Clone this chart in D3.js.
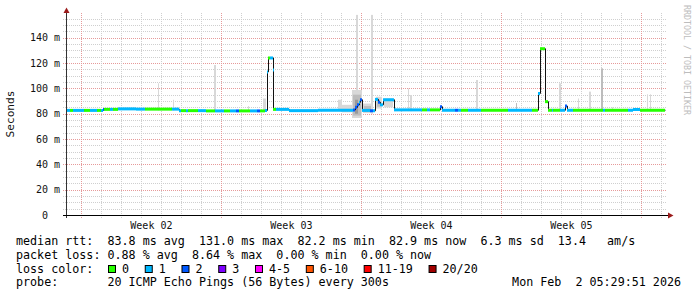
<!DOCTYPE html>
<html>
<head>
<meta charset="utf-8">
<script src="https://cdn.jsdelivr.net/npm/d3@7"></script>
<style>
html, body { margin: 0; padding: 0; background: #fff; }
svg text { font-family: "DejaVu Sans Mono", monospace; white-space: pre; }
</style>
</head>
<body>
<svg width="697" height="297"></svg>
<script>
const svg = d3.select('svg');

// last 30 days, ending at the graph time
const endTime = new Date(Date.UTC(2026, 1, 2, 5, 29, 51));
const startTime = new Date(+endTime - 30 * 864e5);

const yTicks = [0, 20, 40, 60, 80, 100, 120, 140];
const yMax = 159.5;

// median rtt steps: [days since start, ms, loss bucket]
const median = [
  [0, 82.6, 1], [0.2, 82.6, 0], [0.35, 82.6, 1], [0.9, 82.6, 0], [1.2, 82.6, 1],
  [1.55, 82.6, 0], [1.75, 82.6, 1], [1.85, 83.4, 2], [1.9, 83.4, 0], [2.2, 83.4, 1],
  [2.35, 83.4, 0], [2.6, 83.8, 1], [3.5, 83.6, 1], [3.95, 83.6, 0], [5.3, 83.6, 1],
  [5.65, 82.4, 1], [5.75, 82.4, 0], [6.0, 82.4, 1], [6.1, 82.4, 0], [6.6, 82.4, 1],
  [7.0, 82.2, 0], [7.45, 82.2, 1], [7.9, 82.2, 0], [8.2, 82.2, 1], [8.5, 82.2, 2],
  [8.65, 82.2, 0], [9.2, 82.2, 1], [9.55, 82.2, 2], [9.7, 82.2, 0], [9.95, 82.6, 1],
  [10.05, 113, 1], [10.1, 124, 0], [10.2, 124, 1], [10.325, 114.5, 1], [10.35, 83.4, 0],
  [10.5, 83.4, 1], [11.15, 82.4, 1], [12.6, 82.8, 1], [14.35, 83, 2], [14.45, 85, 2],
  [14.55, 87, 2], [14.65, 89, 1], [14.7, 91, 2], [14.8, 82.6, 1], [15.2, 82.3, 2],
  [15.35, 82.3, 1], [15.45, 91.3, 1], [15.6, 89, 2], [15.7, 87, 1], [15.85, 91, 1],
  [16.375, 83, 1], [17.8, 83, 0], [18.05, 83, 1], [18.2, 83, 0], [18.7, 85.5, 2],
  [18.8, 82.7, 1], [19.45, 82.7, 2], [19.6, 82.7, 1], [19.75, 82.7, 0], [20.1, 82.7, 1],
  [20.75, 82.7, 0], [22.1, 82.7, 1], [23.3, 82.7, 0], [23.6, 96, 1], [23.7, 131.3, 0],
  [23.95, 89.5, 0], [24.075, 82.7, 0], [24.3, 82.7, 1], [24.35, 82.7, 0], [24.7, 82.7, 1],
  [24.95, 86, 2], [25.05, 82.7, 1], [25.35, 82.7, 0], [26.85, 82.7, 1], [26.95, 82.7, 0],
  [28.1, 82.7, 1], [28.35, 83.3, 1], [28.7, 82.7, 0]
];
const medianEnd = 29.95;

// smoke: [from day, to day, low ms, high ms, shade]
const smoke = [
  [4.6, 4.65, 82.5, 104, 0], [5.35, 5.4, 82.5, 91, 0], [7.4, 7.5, 82, 118.4, 0],
  [9.075, 9.125, 82, 86, 0], [9.85, 10.0, 82, 92, 0], [13.6, 13.8, 82, 91, 0],
  [13.8, 14.3, 81, 87, 0], [14.5, 14.6, 80, 158, 0], [15.25, 15.35, 80, 158, 0],
  [14.3, 14.8, 76.6, 98.7, 0], [14.35, 14.75, 78.5, 95, 1], [14.45, 14.6, 80, 91, 2],
  [14.85, 15.35, 80.5, 88, 0], [14.9, 15.25, 81.5, 86, 1],
  [15.5, 15.8, 84, 93.4, 0], [15.55, 15.7, 85.5, 91, 1], [15.9, 16.35, 85, 92, 0],
  [17.075, 17.15, 82, 100, 0], [17.2, 17.3, 82, 94.7, 0], [20.475, 20.575, 82, 106.6, 0],
  [22.5, 22.55, 82, 88.4, 1], [24.625, 24.7, 82, 104, 0], [25.575, 25.625, 82, 92, 0],
  [26.125, 26.2, 82, 97.4, 0], [26.725, 26.825, 82, 115.8, 1], [27.3, 27.35, 82, 85, 0],
  [29.025, 29.075, 82, 95.3, 0], [29.175, 29.225, 82, 95.3, 0]
];
const smokeShades = ['#d8d8d8', '#bcbcbc', '#999999'];

const lossLabels = ['0', '1', '2', '3', '4-5', '6-10', '11-19', '20/20'];
const lossColors = ['#26ff00', '#00b8ff', '#0059ff', '#7e00ff', '#ff00ff', '#ff5500', '#ff0000', '#a10000'];

const legendRows = [
  'median rtt:  83.8 ms avg  131.0 ms max  82.2 ms min  82.9 ms now  6.3 ms sd  13.4   am/s',
  'packet loss: 0.88 % avg  8.64 % max  0.00 % min  0.00 % now',
  'loss color:',
  'probe:       20 ICMP Echo Pings (56 Bytes) every 300s'
];
const stampText = 'Mon Feb  2 05:29:51 2026';

const x = d3.scaleTime().domain([startTime, endTime]).range([66, 666]);
const y = d3.scaleLinear().domain([0, yMax]).range([215, 13]);
const at = d => new Date(+startTime + d * 864e5);
const crisp = v => Math.round(v) + 0.5;

const grid = svg.append('g');

// horizontal grid
const minorY = d3.range(5, yMax, 5).filter(v => v % 20 !== 0);
grid.selectAll('.hmin').data(minorY).enter().append('line')
    .attr('x1', 63).attr('x2', 666)
    .attr('y1', d => crisp(y(d))).attr('y2', d => crisp(y(d)))
    .attr('stroke', '#cfcfcf').attr('stroke-dasharray', '1,1');
grid.selectAll('.hmaj').data(yTicks.filter(v => v > 0)).enter().append('line')
    .attr('x1', 63).attr('x2', 666)
    .attr('y1', d => crisp(y(d))).attr('y2', d => crisp(y(d)))
    .attr('stroke', '#e69a9a').attr('stroke-dasharray', '1,1');

// vertical grid: days and weeks
const days = d3.utcDay.range(startTime, endTime).filter(d => d.getUTCDay() !== 0);
const weeks = d3.utcSunday.range(startTime, endTime);
grid.selectAll('.vmin').data(days).enter().append('line')
    .attr('x1', d => crisp(x(d))).attr('x2', d => crisp(x(d)))
    .attr('y1', 13).attr('y2', 218)
    .attr('stroke', '#cfcfcf').attr('stroke-dasharray', '1,1');
grid.selectAll('.vmaj').data(weeks).enter().append('line')
    .attr('x1', d => crisp(x(d))).attr('x2', d => crisp(x(d)))
    .attr('y1', 13).attr('y2', 218)
    .attr('stroke', '#e69a9a').attr('stroke-dasharray', '1,1');

// smoke
svg.append('g').selectAll('rect').data(smoke).enter().append('rect')
    .attr('x', d => Math.round(x(at(d[0]))))
    .attr('width', d => Math.max(1, Math.round(x(at(d[1])) - x(at(d[0])))))
    .attr('y', d => y(d[3]))
    .attr('height', d => y(d[2]) - y(d[3]))
    .attr('fill', d => smokeShades[d[4]]);

// median line, dark step line under the loss coloured segments
const pts = median.map(d => [d[0], d[1]]).concat([[medianEnd, median[median.length - 1][1]]]);
svg.append('path')
    .attr('d', d3.line().x(d => crisp(x(at(d[0])))).y(d => y(d[1])).curve(d3.curveStepAfter)(pts))
    .attr('fill', 'none').attr('stroke', '#111').attr('stroke-width', 1);

const segs = median.map((d, i) => ({
  t0: d[0], t1: i + 1 < median.length ? median[i + 1][0] : medianEnd, v: d[1], loss: d[2]
}));
svg.append('g').selectAll('line').data(segs).enter().append('line')
    .attr('x1', d => Math.round(x(at(d.t0))))
    .attr('x2', d => Math.max(Math.round(x(at(d.t1))), Math.round(x(at(d.t0))) + 1))
    .attr('y1', d => y(d.v)).attr('y2', d => y(d.v))
    .attr('stroke', d => lossColors[d.loss]).attr('stroke-width', 3);

// axes
const axis = svg.append('g');
axis.append('line').attr('x1', 66.5).attr('x2', 66.5).attr('y1', 13).attr('y2', 218)
    .attr('stroke', '#333');
axis.append('line').attr('x1', 63).attr('x2', 668).attr('y1', 215.5).attr('y2', 215.5)
    .attr('stroke', '#000');
axis.append('path').attr('d', 'M63.5,13L69.5,13L66.5,7.5Z').attr('fill', '#9b1b1b');
axis.append('path').attr('d', 'M668,212.5L668,218.5L673.5,215.5Z').attr('fill', '#9b1b1b');

// y labels
axis.selectAll('.ylab').data(yTicks).enter().append('text')
    .attr('x', 60).attr('y', d => y(d) + 3.6)
    .attr('text-anchor', 'end')
    .style('font-size', '10px').attr('fill', '#111')
    .text(d => d === 0 ? '0  ' : d + ' m');

// week labels
const fmtWeek = d3.utcFormat('Week %V');
const weekMid = d3.utcSunday.range(d3.utcSunday.floor(startTime), endTime)
    .map(d => new Date(+d + 3.5 * 864e5))
    .filter(d => d > startTime && d < endTime);
axis.selectAll('.xlab').data(weekMid).enter().append('text')
    .attr('x', d => x(d)).attr('y', 228.5)
    .attr('text-anchor', 'middle')
    .style('font-size', '10px').attr('fill', '#111')
    .text(d => fmtWeek(d));

// unit label
svg.append('text')
    .attr('transform', 'translate(14,114) rotate(-90)')
    .attr('text-anchor', 'middle')
    .style('font-size', '11.2px').attr('fill', '#111')
    .text('Seconds');

// watermark
svg.append('text')
    .attr('transform', 'translate(683.5,5) rotate(90)')
    .style('font-size', '8.3px').attr('fill', '#bdbdbd')
    .text('RRDTOOL / TOBI OETIKER');

// legend
const leg = svg.append('g').style('font-size', '11.7px').attr('fill', '#000');
legendRows.forEach((t, i) => {
  leg.append('text').attr('x', 16).attr('y', 245.3 + i * 13.67).text(t);
});
leg.append('text').attr('x', 681).attr('y', 245.3 + 3 * 13.67)
    .attr('text-anchor', 'end').text(stampText);

let bx = 108.5;
lossLabels.forEach((lab, i) => {
  leg.append('rect').attr('x', bx).attr('y', 265.5).attr('width', 7).attr('height', 7)
      .attr('fill', lossColors[i]).attr('stroke', '#000').attr('stroke-width', 1);
  const t = leg.append('text').attr('x', bx + 13.5).attr('y', 245.3 + 2 * 13.67).text(lab);
  bx = bx + 13.5 + t.node().getComputedTextLength() + 16.2;
});
</script>
</body>
</html>
